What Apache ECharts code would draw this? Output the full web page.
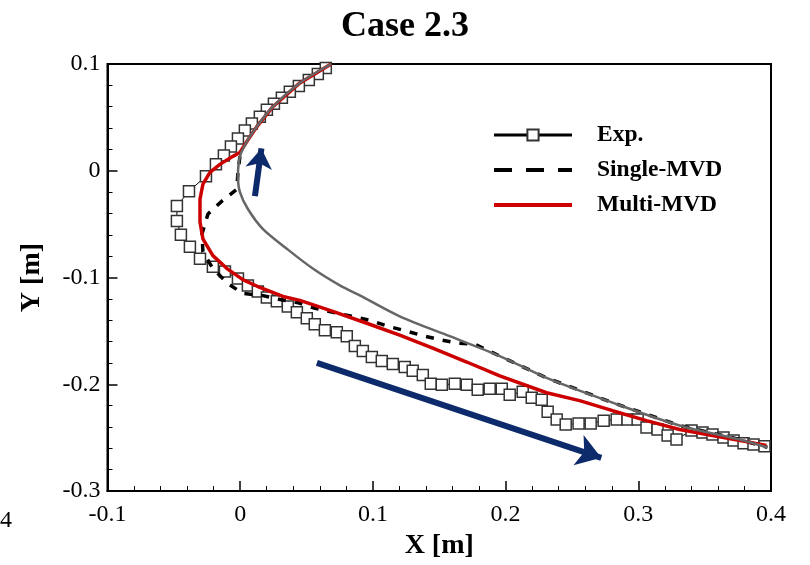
<!DOCTYPE html>
<html><head><meta charset="utf-8">
<script src="https://cdn.jsdelivr.net/npm/echarts@6/dist/echarts.min.js"></script>
<style>html,body{margin:0;padding:0;background:#fff}#c{width:810px;height:565px}</style>
</head><body><div id="c"></div>
<script>
// Clean surface (gray curve)
const cleanX = [0.0685,0.0450,0.0246,0.0126,0.0050,-0.0002,-0.0017,-0.0002,0.0058,0.0170,0.0351,0.0547,0.0751,0.0901,0.1202,0.1579,0.1956,0.2309,0.2806,0.3311,0.3762,0.3973];
const cleanY = [0.1000,0.0823,0.0600,0.0414,0.0274,0.0135,-0.0051,-0.0200,-0.0358,-0.0544,-0.0730,-0.0916,-0.1074,-0.1167,-0.1363,-0.1549,-0.1735,-0.1940,-0.2172,-0.2386,-0.2516,-0.2591];
// Exp.
const expX = [0.0645,0.0585,0.0517,0.0442,0.0374,0.0314,0.0254,0.0201,0.0148,0.0088,0.0035,-0.0017,-0.0070,-0.0123,-0.0183,-0.0258,-0.0386,-0.0477,-0.0477,-0.0447,-0.0379,-0.0303,-0.0206,-0.0115,-0.0017,0.0058,0.0133,0.0201,0.0276,0.0359,0.0427,0.0502,0.0562,0.0638,0.0728,0.0803,0.0864,0.0924,0.0992,0.1067,0.1150,0.1240,0.1300,0.1376,0.1436,0.1519,0.1617,0.1707,0.1790,0.1880,0.1971,0.2031,0.2129,0.2197,0.2272,0.2317,0.2385,0.2453,0.2550,0.2641,0.2739,0.2837,0.2919,0.2995,0.3062,0.3145,0.3221,0.3288,0.3401,0.3484,0.3559,0.3642,0.3718,0.3793,0.3868,0.3951];
const expY = [0.0963,0.0907,0.0851,0.0795,0.0740,0.0684,0.0628,0.0572,0.0507,0.0442,0.0377,0.0302,0.0228,0.0144,0.0060,-0.0051,-0.0191,-0.0330,-0.0470,-0.0600,-0.0712,-0.0823,-0.0898,-0.0944,-0.1009,-0.1074,-0.1130,-0.1186,-0.1223,-0.1270,-0.1326,-0.1381,-0.1437,-0.1493,-0.1512,-0.1549,-0.1642,-0.1688,-0.1744,-0.1781,-0.1809,-0.1837,-0.1874,-0.1912,-0.1995,-0.2005,-0.1995,-0.2005,-0.2051,-0.2042,-0.2042,-0.2098,-0.2070,-0.2126,-0.2144,-0.2256,-0.2330,-0.2377,-0.2367,-0.2367,-0.2340,-0.2330,-0.2330,-0.2330,-0.2405,-0.2423,-0.2479,-0.2516,-0.2433,-0.2451,-0.2470,-0.2498,-0.2526,-0.2553,-0.2563,-0.2581];
// Single-MVD
const singleX = [-0.0002,-0.0017,-0.0025,-0.0138,-0.0243,-0.0288,-0.0281,-0.0206,-0.0093,0.0020,0.0163,0.0299,0.0427,0.0563,0.0698,0.0841,0.0977,0.1112,0.1255,0.1391,0.1519,0.1639,0.1767,0.1956,0.2309,0.2806,0.3311,0.3762,0.3973];
const singleY = [0.0135,-0.0014,-0.0172,-0.0284,-0.0405,-0.0591,-0.0758,-0.0916,-0.1056,-0.1149,-0.1167,-0.1205,-0.1233,-0.1288,-0.1326,-0.1363,-0.1400,-0.1456,-0.1502,-0.1549,-0.1586,-0.1614,-0.1623,-0.1735,-0.1940,-0.2172,-0.2386,-0.2516,-0.2591];
// Multi-MVD
const multiX = [0.0685,0.0450,0.0246,0.0126,0.0050,-0.0002,-0.0055,-0.0153,-0.0228,-0.0281,-0.0303,-0.0303,-0.0281,-0.0206,-0.0100,0.0020,0.0148,0.0322,0.0450,0.0698,0.0954,0.1202,0.1451,0.1707,0.1956,0.2309,0.2558,0.2806,0.3062,0.3311,0.3559,0.3966];
const multiY = [0.1000,0.0823,0.0600,0.0414,0.0274,0.0172,0.0135,0.0060,-0.0014,-0.0126,-0.0265,-0.0479,-0.0637,-0.0795,-0.0916,-0.1019,-0.1093,-0.1177,-0.1214,-0.1316,-0.1428,-0.1540,-0.1660,-0.1791,-0.1921,-0.2079,-0.2153,-0.2247,-0.2340,-0.2423,-0.2479,-0.2572];
// Annotation arrows [x1,y1,x2,y2]
const arrowUp = [0.0111,-0.0237,0.0160,0.0209];
const arrowDown = [0.0578,-0.1800,0.2721,-0.2688];

const zip = (a,b) => a.map((v,i)=>[v,b[i]]);
const serif = '"Liberation Serif","Times New Roman",serif';
const chart = echarts.init(document.getElementById('c'));
chart.setOption({
  animation:false,
  backgroundColor:'#fff',
  title:{text:'Case 2.3',left:'center',top:4,textStyle:{fontFamily:serif,fontWeight:'bold',fontSize:36,color:'#000'}},
  grid:{left:107.5,right:39,top:64,bottom:70,show:true,borderColor:'#000',borderWidth:2,backgroundColor:'transparent'},
  legend:{orient:'vertical',left:487,top:118,itemWidth:78,itemHeight:14,itemGap:11,
    textStyle:{fontFamily:serif,fontWeight:'bold',fontSize:23.5,color:'#000',padding:[0,0,0,20]},
    data:[
      {name:'Exp.',lineStyle:{width:3,color:'#000'}},
      {name:'Single-MVD',lineStyle:{width:4,type:[18,14],color:'#000'},itemStyle:{opacity:0}},
      {name:'Multi-MVD',lineStyle:{width:4,color:'#cc0000'},itemStyle:{opacity:0}}
    ]},
  xAxis:{type:'value',min:-0.1,max:0.4,interval:0.1,
    name:'X [m]',nameLocation:'middle',nameGap:36,
    nameTextStyle:{fontFamily:serif,fontWeight:'bold',fontSize:28,color:'#000'},
    axisLine:{onZero:false,lineStyle:{color:'#000',width:2}},
    axisTick:{inside:true,length:10,lineStyle:{color:'#000',width:1.5}},
    minorTick:{show:true,splitNumber:5,length:5,lineStyle:{color:'#000',width:1}},
    axisLabel:{fontFamily:serif,fontSize:24,color:'#000',margin:12},
    splitLine:{show:false}},
  yAxis:{type:'value',min:-0.3,max:0.1,interval:0.1,
    name:'Y [m]',nameLocation:'middle',nameGap:62,
    nameTextStyle:{fontFamily:serif,fontWeight:'bold',fontSize:28,color:'#000'},
    axisLine:{onZero:false,lineStyle:{color:'#000',width:2}},
    axisTick:{inside:true,length:10,lineStyle:{color:'#000',width:1.5}},
    minorTick:{show:true,splitNumber:5,length:5,lineStyle:{color:'#000',width:1}},
    axisLabel:{fontFamily:serif,fontSize:24,color:'#000',margin:7},
    splitLine:{show:false}},
  graphic:[{type:'text',left:0,top:509,style:{text:'4',font:'24px '+serif,fill:'#000'}}],
  series:[
    {name:'Exp.',type:'line',data:zip(expX,expY),symbol:'rect',symbolSize:11,showSymbol:true,
      lineStyle:{color:'#000',width:1},itemStyle:{color:'#fff',borderColor:'#333',borderWidth:1.5},z:2},
    {name:'Single-MVD',type:'line',data:zip(singleX,singleY),symbol:'none',
      lineStyle:{color:'#000',width:3.5,type:[8,9]},itemStyle:{color:'#000'},z:3},
    {name:'Multi-MVD',type:'line',data:zip(multiX,multiY),symbol:'none',
      lineStyle:{color:'#cc0000',width:3.5},itemStyle:{color:'#cc0000'},z:4},
    {name:'Clean',type:'line',data:zip(cleanX,cleanY),symbol:'none',smooth:0.3,
      lineStyle:{color:'#666',width:2.5},z:5},
    {type:'lines',coordinateSystem:'cartesian2d',symbol:['none','arrow'],symbolSize:[1,20],z:6,
      lineStyle:{color:'#0d2a6b',width:6,opacity:1,curveness:0},
      data:[{coords:[[arrowUp[0],arrowUp[1]],[arrowUp[2],arrowUp[3]]]},
            {coords:[[arrowDown[0],arrowDown[1]],[arrowDown[2],arrowDown[3]]],symbolSize:[1,24]}]}
  ]
});
</script></body></html>
